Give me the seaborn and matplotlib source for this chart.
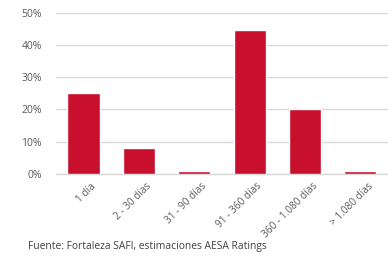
import matplotlib
matplotlib.use("Agg")
import matplotlib.pyplot as plt
import matplotlib.transforms as mtransforms
import numpy as np
import pandas as pd
import seaborn as sns

categories = ["1 día", "2 - 30 días", "31 - 90 días", "91 - 360 días",
              "360 - 1.080 días", "> 1.080 días"]
shares = [25.0, 8.0, 0.8, 44.6, 20.3, 0.8]
y_ticks = [0, 10, 20, 30, 40, 50]
source = "Fuente: Fortaleza SAFI, estimaciones AESA Ratings"

df = pd.DataFrame({"plazo": categories, "pct": shares})

sns.set_style("white")
plt.rcParams["font.family"] = ["Open Sans", "DejaVu Sans"]

text_color = "#595959"
grid_color = "#d9d9d9"

fig = plt.figure(figsize=(3.88, 2.58), dpi=100)
ax = fig.add_axes([0.144, 0.326, 0.856, 0.624])

sns.barplot(data=df, x="plazo", y="pct", color="#c8102e", saturation=1,
            width=0.58, ax=ax, zorder=3)

ax.set_ylim(0, 50)
ax.set_xlim(-0.5, len(categories) - 0.5)
ax.set_yticks(y_ticks)
ax.set_yticklabels([f"{v}%" for v in y_ticks], fontsize=7.5, color=text_color)
ax.yaxis.grid(True, color=grid_color, linewidth=1)
ax.set_axisbelow(True)
ax.tick_params(axis="y", length=0, pad=10)

ax.set_xticks(range(len(categories)))
ax.set_xticklabels(categories, rotation=45, ha="right", rotation_mode="anchor",
                   fontsize=7.2, color=text_color)
ax.tick_params(axis="x", which="major", length=0, pad=5)
# nudge rotated labels so they end just right of the bar centre
shift = mtransforms.ScaledTranslation(7 / 100, 0, fig.dpi_scale_trans)
for lbl in ax.get_xticklabels():
    lbl.set_transform(lbl.get_transform() + shift)
ax.set_xticks(np.arange(-0.5, len(categories), 1.0), minor=True)
ax.tick_params(axis="x", which="minor", length=4, color=grid_color, width=1)

for side in ["top", "right", "left"]:
    ax.spines[side].set_visible(False)
ax.spines["bottom"].set_color(grid_color)
ax.spines["bottom"].set_linewidth(1)

ax.set_xlabel("")
ax.set_ylabel("")

fig.text(0.072, 0.045, source, fontsize=7.4, color="#404040", ha="left", va="center")

plt.savefig("out.png", dpi=100)
plt.close()
